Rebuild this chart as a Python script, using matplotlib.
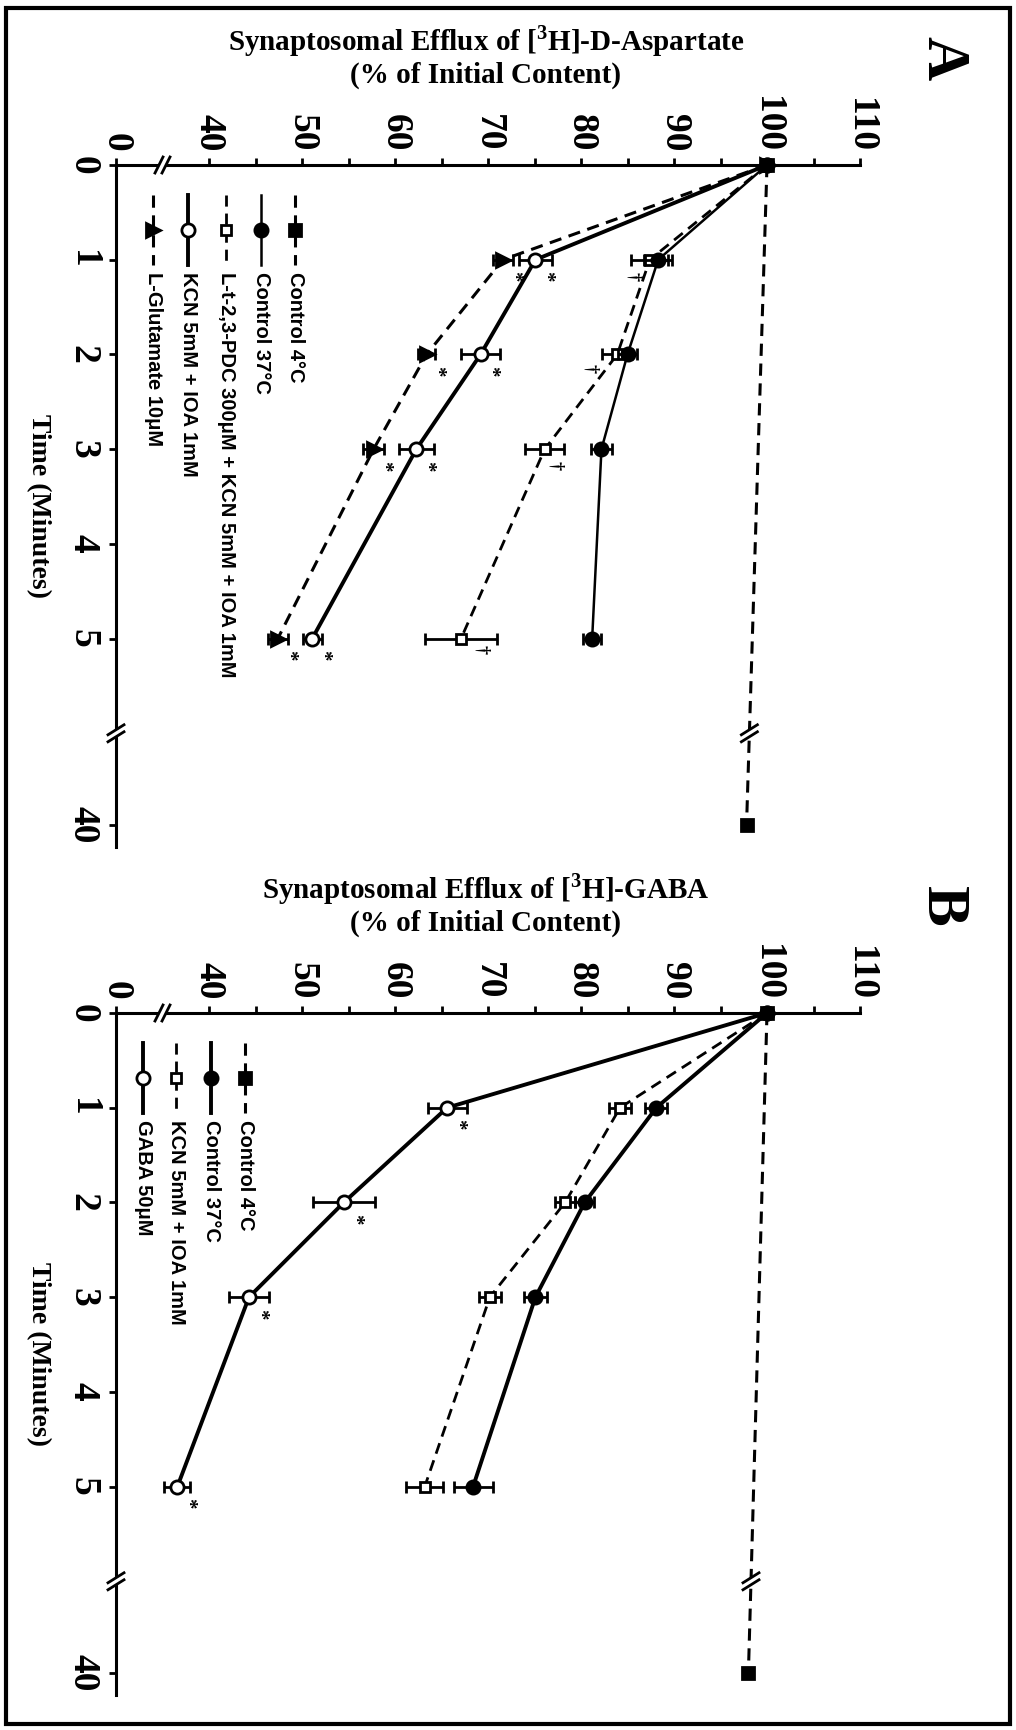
import numpy as np
import matplotlib
matplotlib.use('Agg')
import matplotlib.pyplot as plt
import matplotlib.transforms as mtransforms
from matplotlib.patches import Rectangle
from matplotlib.ticker import NullLocator

plt.rcParams['font.family'] = ['Liberation Serif', 'DejaVu Serif']
plt.rcParams['font.weight'] = 'bold'
plt.rcParams['mathtext.fontset'] = 'custom'
plt.rcParams['mathtext.rm'] = 'Liberation Serif:bold'
plt.rcParams['mathtext.bf'] = 'Liberation Serif:bold'

W, H = 1016, 1730

# ---- data ----
time = [0, 1, 2, 3, 5]
time_long = [0, 40]

# panel A : [3H]-D-Aspartate
a_c4 = [100, 97.8]
a_c4_err = [0, 0.5]
a_c37 = [100, 88.3, 85.0, 82.2, 81.2]
a_c37_err = [0, 1.5, 1.0, 1.1, 1.0]
a_pdc = [100, 87.4, 83.9, 76.1, 67.1]
a_pdc_err = [0, 2.0, 1.6, 2.1, 3.9]
a_kcn = [100, 75.1, 69.2, 62.3, 51.1]
a_kcn_err = [0, 1.8, 2.1, 1.9, 1.0]
a_glu = [100, 71.6, 63.4, 57.7, 47.4]
a_glu_err = [0, 1.1, 0.9, 1.1, 1.1]

# panel B : [3H]-GABA
b_c4 = [100, 98.0]
b_c4_err = [0, 0.5]
b_c37 = [100, 88.1, 80.4, 75.1, 68.4]
b_c37_err = [0, 1.2, 1.0, 1.2, 2.1]
b_kcn = [100, 84.2, 78.3, 70.2, 63.2]
b_kcn_err = [0, 1.2, 1.1, 1.2, 2.0]
b_gaba = [100, 65.6, 54.5, 44.3, 36.6]
b_gaba_err = [0, 2.1, 3.3, 2.2, 1.4]

eff_ticks = [0, 40, 50, 60, 70, 80, 90, 100, 110]
eff_minor = [45, 55, 65, 75, 85, 95, 105]
time_ticks = [0, 1, 2, 3, 4, 5, 40]

legend_a = ['Control 4\u00b0C', 'Control 37\u00b0C',
            'L-t-2,3-PDC 300\u03bcM + KCN 5mM + IOA 1mM',
            'KCN 5mM + IOA 1mM', 'L-Glutamate 10\u03bcM']
legend_b = ['Control 4\u00b0C', 'Control 37\u00b0C',
            'KCN 5mM + IOA 1mM', 'GABA 50\u03bcM']


# broken axes: 0 squeezed next to 31 on efflux, 40 min squeezed after 5 min
def eff_fwd(v):
    v = np.asarray(v, float)
    return np.where(v >= 31, v, 30 + v / 31.0)


def eff_inv(u):
    u = np.asarray(u, float)
    return np.where(u >= 31, u, (u - 30) * 31.0)


def t_fwd(t):
    t = np.asarray(t, float)
    return np.where(t <= 5, t, 5 + (t - 5) * 1.97 / 35)


def t_inv(u):
    u = np.asarray(u, float)
    return np.where(u <= 5, u, 5 + (u - 5) * 35 / 1.97)


T_BREAK = float(t_inv(6.0))
AX_L, AX_W, AX_H = 116, 744, 682

fig = plt.figure(figsize=(W / 100, H / 100), dpi=100)


def fy(py):
    return 1 - py / H


def slashes(ax, xv, yv, dx, dy, sep, horiz):
    tr = mtransforms.Affine2D() + mtransforms.ScaledTranslation(xv, yv, ax.transData)
    if horiz:
        ax.plot([-sep, sep], [0, 0], color='white', lw=4, transform=tr,
                clip_on=False, zorder=10, solid_capstyle='butt')
        offs = [(-sep, 0), (sep, 0)]
    else:
        ax.plot([0, 0], [-sep, sep], color='white', lw=4, transform=tr,
                clip_on=False, zorder=10, solid_capstyle='butt')
        offs = [(0, -sep), (0, sep)]
    for ox, oy in offs:
        ax.plot([ox - dx, ox + dx], [oy - dy, oy + dy], color='k', lw=2,
                transform=tr, clip_on=False, zorder=11)


def series(ax, t, v, err, marker, mfc, ls, lw, ms, z):
    ax.errorbar(v, t, xerr=err, fmt='none', ecolor='k', elinewidth=2,
                capsize=4.5, capthick=2, zorder=z)
    ax.plot(v, t, color='k', ls=ls, lw=lw, marker=marker, ms=ms, mfc=mfc,
            mec='k', mew=2, zorder=z + 0.5, clip_on=False)


def legend_entry(ax, col_px, label, ls, lw, marker, mfc, ms):
    x = (col_px - AX_L) / AX_W
    ax.plot([x, x], [1 - 30 / AX_H, 1 - 100 / AX_H], transform=ax.transAxes,
            color='k', ls=ls, lw=lw, clip_on=False)
    ax.plot([x], [1 - 65 / AX_H], transform=ax.transAxes, marker=marker, ms=ms,
            mfc=mfc, mec='k', mew=2, color='k', clip_on=False)
    ax.text(x, 1 - 107 / AX_H, label, transform=ax.transAxes, rotation=-90,
            ha='center', va='top', fontsize=14.5, fontweight='bold',
            family=['Liberation Sans', 'DejaVu Sans'])


def make_panel(top_px):
    ax = fig.add_axes([AX_L / W, fy(top_px + AX_H), AX_W / W, AX_H / H])
    ax.set_xscale('function', functions=(eff_fwd, eff_inv))
    ax.set_yscale('function', functions=(t_fwd, t_inv))
    ax.set_xlim(0, 110)
    ax.set_ylim(44.1, 0)
    ax.patch.set_visible(False)
    for s in ['bottom', 'right']:
        ax.spines[s].set_visible(False)
    for s in ['top', 'left']:
        ax.spines[s].set_linewidth(2.2)
    ax.xaxis.tick_top()
    ax.set_xticks(eff_ticks)
    ax.set_xticklabels([str(v) for v in eff_ticks])
    ax.set_xticks(eff_minor, minor=True)
    ax.set_yticks(time_ticks)
    ax.set_yticklabels([str(v) for v in time_ticks])
    ax.yaxis.set_minor_locator(NullLocator())
    ax.tick_params(axis='x', which='both', direction='out', length=5, width=2,
                   pad=4.5, labelsize=27, labelrotation=-90)
    ax.tick_params(axis='y', direction='out', length=5, width=2, pad=6,
                   labelsize=27, labelrotation=-90)
    plt.setp(ax.get_yticklabels(), va='center')
    ax.set_ylabel('Time (Minutes)', rotation=-90, fontsize=20,
                  fontweight='bold', va='center', ha='center')
    ax.yaxis.set_label_coords((38 - AX_L) / AX_W, 0.5)
    slashes(ax, 35, 0, 4, 8, 3.5, True)
    slashes(ax, 0, T_BREAK, 8, 5, 3.5, False)
    return ax


def marks(ax, t, v, sym, offs, size):
    for ti, vi, (dx, dy) in zip(t, v, offs):
        ax.annotate(sym, xy=(vi, ti), xytext=(dx, -dy), textcoords='offset pixels',
                    rotation=-90, ha='center', va='center', fontsize=size,
                    fontweight='bold', zorder=12)


star_off = [(10, 17)] * 4
dash = (0, (4, 2.5))

# ---------------- panel A ----------------
axA = make_panel(165)
series(axA, time_long, a_c4, a_c4_err, 's', 'k', dash, 2.2, 8, 8)
series(axA, time, a_c37, a_c37_err, 'o', 'k', '-', 1.8, 9.5, 5)
series(axA, time, a_pdc, a_pdc_err, 's', 'white', dash, 2.0, 7.5, 4)
series(axA, time, a_kcn, a_kcn_err, 'o', 'white', '-', 2.8, 9.5, 6)
series(axA, time, a_glu, a_glu_err, '>', 'k', dash, 2.2, 10, 3)
xb = np.interp(t_fwd(T_BREAK), t_fwd(time_long), a_c4)
slashes(axA, xb, T_BREAK, 8, 5, 3.5, False)

marks(axA, time[1:], a_kcn[1:], '*', star_off, 15)
marks(axA, time[1:], a_glu[1:], '*', star_off, 15)
marks(axA, time[1:], a_pdc[1:], '\u2020', [(-16, 17), (-27, 14), (11, 16), (20, 11)], 13)

cols_a = [295, 261, 226, 188, 153]
sty_a = [(dash, 2.2, 's', 'k', 8), ('-', 1.8, 'o', 'k', 9.5),
         (dash, 2.0, 's', 'white', 7.5), ('-', 2.8, 'o', 'white', 9.5),
         (dash, 2.2, '>', 'k', 10)]
for c, lab, (ls, lw, mk, fc, ms) in zip(cols_a, legend_a, sty_a):
    legend_entry(axA, c, lab, ls, lw, mk, fc, ms)

# ---------------- panel B ----------------
axB = make_panel(1013)
series(axB, time_long, b_c4, b_c4_err, 's', 'k', dash, 2.2, 8, 8)
series(axB, time, b_c37, b_c37_err, 'o', 'k', '-', 2.8, 9.5, 5)
series(axB, time, b_kcn, b_kcn_err, 's', 'white', dash, 2.0, 7.5, 4)
series(axB, time, b_gaba, b_gaba_err, 'o', 'white', '-', 2.8, 9.5, 6)
xb = np.interp(t_fwd(T_BREAK), t_fwd(time_long), b_c4)
slashes(axB, xb, T_BREAK, 8, 5, 3.5, False)
marks(axB, time[1:], b_gaba[1:], '*', star_off, 15)

cols_b = [245, 211, 176, 143]
sty_b = [(dash, 2.2, 's', 'k', 8), ('-', 2.8, 'o', 'k', 9.5),
         (dash, 2.0, 's', 'white', 7.5), ('-', 2.8, 'o', 'white', 9.5)]
for c, lab, (ls, lw, mk, fc, ms) in zip(cols_b, legend_b, sty_b):
    legend_entry(axB, c, lab, ls, lw, mk, fc, ms)

# ---------------- titles, letters, frame ----------------
for axis_px, name, letter in [(165, r'Synaptosomal Efflux of [$^{\mathbf{3}}$H]-D-Aspartate', 'A'),
                              (1013, r'Synaptosomal Efflux of [$^{\mathbf{3}}$H]-GABA', 'B')]:
    fig.text(486 / W, fy(axis_px - 124), name, ha='center', va='center',
             fontsize=21, fontweight='bold')
    fig.text(486 / W, fy(axis_px - 90), '(% of Initial Content)', ha='center',
             va='center', fontsize=21, fontweight='bold')
    fig.text(942 / W, fy(axis_px - 107), letter, ha='center', va='center',
             rotation=-90, fontsize=44, fontweight='bold')

fig.patches.append(Rectangle((6 / W, fy(1724)), 1004 / W, 1716 / H,
                             transform=fig.transFigure, fill=False, lw=3,
                             ec='k'))

fig.savefig('out.png', dpi=100)
